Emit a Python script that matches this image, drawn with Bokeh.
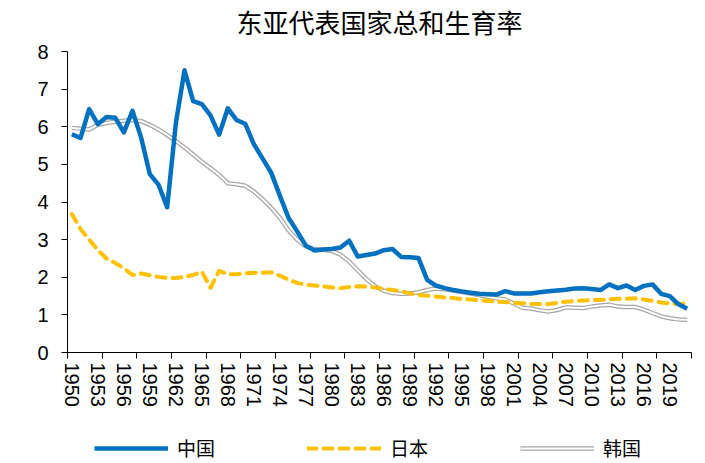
from bokeh.plotting import figure
from bokeh.layouts import column
from bokeh.models import Range1d, FixedTicker, Legend, LegendItem, ColumnDataSource, Label
from bokeh.embed import file_html
from bokeh.resources import INLINE

# ---- data ----
YEARS = list(range(1950, 2022))
CHINA = [5.80, 5.70, 6.47, 6.07, 6.26, 6.24, 5.85, 6.42, 5.71, 4.74,
         4.46, 3.86, 6.09, 7.50, 6.68, 6.60, 6.30, 5.79, 6.49, 6.18,
         6.08, 5.54, 5.16, 4.78, 4.17, 3.58, 3.22, 2.84, 2.71, 2.74,
         2.75, 2.79, 2.97, 2.55, 2.59, 2.63, 2.72, 2.75, 2.54, 2.53,
         2.51, 1.93, 1.78, 1.71, 1.66, 1.62, 1.59, 1.56, 1.55, 1.54,
         1.63, 1.57, 1.57, 1.57, 1.60, 1.63, 1.65, 1.67, 1.70, 1.71,
         1.69, 1.66, 1.81, 1.71, 1.78, 1.66, 1.77, 1.81, 1.56, 1.50,
         1.28, 1.16]
JAPAN = [3.68, 3.28, 3.00, 2.72, 2.50, 2.38, 2.24, 2.06, 2.10, 2.05,
         2.01, 1.98, 1.98, 2.01, 2.06, 2.15, 1.72, 2.17, 2.08, 2.08,
         2.10, 2.12, 2.12, 2.13, 2.04, 1.94, 1.85, 1.80, 1.78, 1.76,
         1.73, 1.71, 1.74, 1.76, 1.75, 1.73, 1.69, 1.66, 1.63, 1.57,
         1.53, 1.51, 1.49, 1.46, 1.45, 1.42, 1.41, 1.39, 1.37, 1.35,
         1.34, 1.32, 1.31, 1.29, 1.29, 1.29, 1.32, 1.35, 1.37, 1.38,
         1.39, 1.40, 1.41, 1.43, 1.43, 1.44, 1.41, 1.37, 1.33, 1.30,
         1.29, 1.30]
KOREA = [5.97, 5.95, 5.93, 6.05, 6.10, 6.13, 6.16, 6.18, 6.15, 6.05,
         5.93, 5.78, 5.62, 5.45, 5.26, 5.07, 4.90, 4.72, 4.50, 4.47,
         4.43, 4.28, 4.08, 3.85, 3.58, 3.25, 3.00, 2.82, 2.75, 2.73,
         2.70, 2.60, 2.42, 2.18, 1.95, 1.76, 1.64, 1.58, 1.56, 1.57,
         1.60, 1.66, 1.70, 1.68, 1.65, 1.61, 1.57, 1.53, 1.48, 1.44,
         1.41, 1.30, 1.19, 1.17, 1.12, 1.09, 1.13, 1.20, 1.19, 1.18,
         1.22, 1.25, 1.27, 1.22, 1.21, 1.21, 1.14, 1.05, 0.96, 0.91,
         0.88, 0.87]
LABEL_YEARS = list(range(1950, 2020, 3))
SERIES_NAMES = ["中国", "日本", "韩国"]
TITLE = "东亚代表国家总和生育率"

CN_COLOR, JP_COLOR, KR_COLOR = "#0070C0", "#FFC000", "#A6A6A6"

src = ColumnDataSource(dict(year=YEARS, china=CHINA, japan=JAPAN, korea=KOREA))

# ---- title strip ----
tf = figure(width=705, height=41, output_backend="svg", toolbar_location=None,
            min_border=0, x_axis_type=None, y_axis_type=None,
            x_range=Range1d(0, 1), y_range=Range1d(0, 1))
tf.outline_line_color = None
tf.xgrid.visible = False
tf.ygrid.visible = False
tf.add_layout(Label(x=0.5, y=0.5, text=TITLE, text_align="center", text_baseline="middle",
                    text_font="Noto Sans CJK SC", text_font_size="26px", text_color="black"))

# ---- main chart ----
p = figure(width=705, height=384, output_backend="svg", toolbar_location=None, title=None,
           x_range=Range1d(YEARS[0] - 0.5, YEARS[-1] + 0.5), y_range=Range1d(0, 8),
           min_border_left=67, min_border_right=14, min_border_top=10, min_border_bottom=73)
p.outline_line_color = None
p.background_fill_color = "white"
p.border_fill_color = "white"
p.xgrid.visible = False
p.ygrid.visible = False

bounds = [YEARS[0] - 0.5 + 4 * k for k in range(0, (len(YEARS) // 4) + 1)]
xa = p.xaxis[0]
xa.ticker = FixedTicker(ticks=LABEL_YEARS, minor_ticks=bounds)
xa.major_tick_out = 0
xa.major_tick_in = 0
xa.minor_tick_out = 6
xa.minor_tick_in = 0
xa.minor_tick_line_color = "black"
xa.axis_line_color = "black"
xa.major_label_orientation = "vertical"
xa.major_label_standoff = 4
xa.major_label_text_font = "Liberation Sans"
xa.major_label_text_font_size = "20px"
xa.major_label_text_color = "black"

ya = p.yaxis[0]
ya.ticker = FixedTicker(ticks=[0, 1, 2, 3, 4, 5, 6, 7, 8])
ya.major_tick_out = 6
ya.major_tick_in = 0
ya.minor_tick_out = 0
ya.minor_tick_in = 0
ya.major_tick_line_color = "black"
ya.axis_line_color = "black"
ya.major_label_standoff = 13
ya.major_label_text_font = "Liberation Sans"
ya.major_label_text_font_size = "20px"
ya.major_label_text_color = "black"

# lines (Korea drawn first so China sits on top)
p.line("year", "korea", source=src, line_color=KR_COLOR, line_width=4.5, line_join="round")
p.line("year", "korea", source=src, line_color="white", line_width=2, line_join="round")
p.line("year", "japan", source=src, line_color=JP_COLOR, line_width=4, line_dash="9 7",
       line_cap="round", line_join="round")
p.line("year", "china", source=src, line_color=CN_COLOR, line_width=4.5, line_join="round")

# ---- legend strip (its lines lie outside its own view, only the legend shows) ----
lg = figure(width=705, height=38, output_backend="svg", toolbar_location=None,
            min_border=0, x_axis_type=None, y_axis_type=None,
            x_range=Range1d(0, 1), y_range=Range1d(0, 1))
lg.outline_line_color = None
lg.xgrid.visible = False
lg.ygrid.visible = False
r_cn = lg.line("year", "china", source=src, line_color=CN_COLOR, line_width=4.5)
r_jp = lg.line("year", "japan", source=src, line_color=JP_COLOR, line_width=4, line_dash="9 7",
               line_cap="round")
r_k1 = lg.line("year", "korea", source=src, line_color=KR_COLOR, line_width=4.5)
r_k2 = lg.line("year", "korea", source=src, line_color="white", line_width=2)

legend = Legend(items=[LegendItem(label=SERIES_NAMES[0], renderers=[r_cn]),
                       LegendItem(label=SERIES_NAMES[1], renderers=[r_jp]),
                       LegendItem(label=SERIES_NAMES[2], renderers=[r_k1, r_k2])],
                orientation="horizontal", location=(27, 2),
                glyph_width=74, glyph_height=16, label_height=16, label_width=120,
                label_standoff=9, spacing=10, padding=0, margin=0,
                border_line_color=None, background_fill_alpha=0,
                label_text_font="Noto Sans CJK SC", label_text_font_size="19px",
                label_text_color="black")
lg.add_layout(legend, "center")

layout = column(tf, p, lg, spacing=0)
open("out.html", "w").write(file_html(layout, INLINE))
